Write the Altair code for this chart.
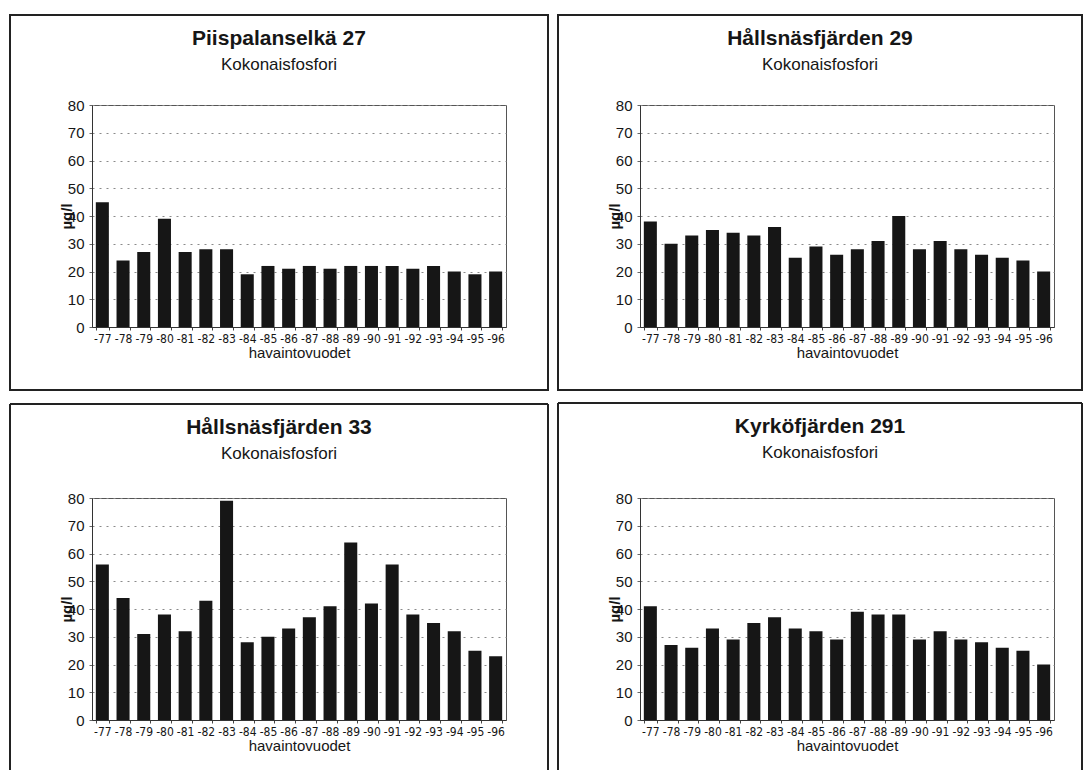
import altair as alt
import pandas as pd

# Observation years (x categories)
years = ["-77", "-78", "-79", "-80", "-81", "-82", "-83", "-84", "-85", "-86",
         "-87", "-88", "-89", "-90", "-91", "-92", "-93", "-94", "-95", "-96"]

# Total phosphorus, µg/l, per station
piispalanselka_27 = [45, 24, 27, 39, 27, 28, 28, 19, 22, 21, 22, 21, 22, 22, 22, 21, 22, 20, 19, 20]
hallsnasfjarden_29 = [38, 30, 33, 35, 34, 33, 36, 25, 29, 26, 28, 31, 40, 28, 31, 28, 26, 25, 24, 20]
hallsnasfjarden_33 = [56, 44, 31, 38, 32, 43, 79, 28, 30, 33, 37, 41, 64, 42, 56, 38, 35, 32, 25, 23]
kyrkofjarden_291 = [41, 27, 26, 33, 29, 35, 37, 33, 32, 29, 39, 38, 38, 29, 32, 29, 28, 26, 25, 20]

station_names = ["Piispalanselkä 27", "Hållsnäsfjärden 29", "Hållsnäsfjärden 33", "Kyrköfjärden 291"]
subtitle = "Kokonaisfosfori"
x_title = "havaintovuodet"
y_title = "µg/l"
y_ticks = [0, 10, 20, 30, 40, 50, 60, 70, 80]

W, H = 414, 222
FONT = "Liberation Sans, Arial, sans-serif"
NARROW = "DejaVu Sans Condensed, Liberation Sans, sans-serif"
INK = "#161616"

one_row = pd.DataFrame({"k": [0]})


def panel(name, values, box_left, box_right, box_top, box_bottom, closed):
    df = pd.DataFrame({"year": years, "value": values})

    bars = alt.Chart(df).mark_bar(color=INK).encode(
        x=alt.X(
            "year:N", sort=years,
            scale=alt.Scale(paddingInner=0.37),
            axis=alt.Axis(
                title=x_title, labelAngle=0, labelFont=NARROW, labelFontSize=12,
                labelColor=INK, labelPadding=3, tickBand="extent", tickSize=3,
                tickColor="#444", domainColor="#333", titleFont=FONT,
                titleFontSize=15, titleFontWeight="normal", titleColor=INK,
                titlePadding=1,
            ),
        ),
        y=alt.Y(
            "value:Q",
            scale=alt.Scale(domain=[0, 80], nice=False),
            axis=alt.Axis(
                title=y_title, values=y_ticks, labelFont=FONT, labelFontSize=15,
                labelColor=INK, labelPadding=5, tickSize=3, tickColor="#666",
                domainColor="#333", grid=True, gridColor="#8a8a8a",
                gridDash=[2, 5], gridWidth=1, titleFont=FONT, titleFontSize=15,
                titleFontWeight="bold", titleColor=INK, titleAngle=-90,
                titleX=-18, titleY=H / 2, titleAlign="center",
                titleBaseline="bottom",
            ),
        ),
    )

    cx = (box_left + box_right) / 2
    title = alt.Chart(one_row).mark_text(
        text=name, font=FONT, fontSize=21, fontWeight="bold", color=INK,
        baseline="middle", align="center",
    ).encode(x=alt.value(cx), y=alt.value(box_top + 24))
    sub = alt.Chart(one_row).mark_text(
        text=subtitle, font=FONT, fontSize=17, color=INK,
        baseline="middle", align="center",
    ).encode(x=alt.value(cx), y=alt.value(box_top + 50))

    if closed:
        frame = alt.Chart(one_row).mark_rect(
            filled=False, stroke="#222", strokeWidth=2
        ).encode(
            x=alt.value(box_left), x2=alt.value(box_right),
            y=alt.value(box_top), y2=alt.value(box_bottom),
        )
        frames = [frame]
    else:
        edge = dict(stroke="#222", strokeWidth=2)
        left = alt.Chart(one_row).mark_rule(**edge).encode(
            x=alt.value(box_left), y=alt.value(box_top), y2=alt.value(box_bottom))
        right = alt.Chart(one_row).mark_rule(**edge).encode(
            x=alt.value(box_right), y=alt.value(box_top), y2=alt.value(box_bottom))
        top = alt.Chart(one_row).mark_rule(**edge).encode(
            x=alt.value(box_left), x2=alt.value(box_right), y=alt.value(box_top))
        frames = [left, right, top]

    return alt.layer(*frames, title, sub, bars).properties(width=W, height=H)


p1 = panel(station_names[0], piispalanselka_27, -82, W + 42, -90, H + 63, True)
p2 = panel(station_names[1], hallsnasfjarden_29, -82, W + 28, -90, H + 63, True)
p3 = panel(station_names[2], hallsnasfjarden_33, -82, W + 42, -94, H + 50, False)
p4 = panel(station_names[3], kyrkofjarden_291, -82, W + 28, -95, H + 50, False)

chart = alt.concat(
    p1, p2, p3, p4, columns=2,
    spacing=alt.RowColnumber(row=171, column=134),
    bounds="flush",
).properties(
    padding={"left": 8, "top": 13, "right": 0, "bottom": 0},
    background="white",
).configure_view(stroke="#555", strokeWidth=1)

chart.save("out.html", embed_options={"renderer": "svg", "actions": False})
